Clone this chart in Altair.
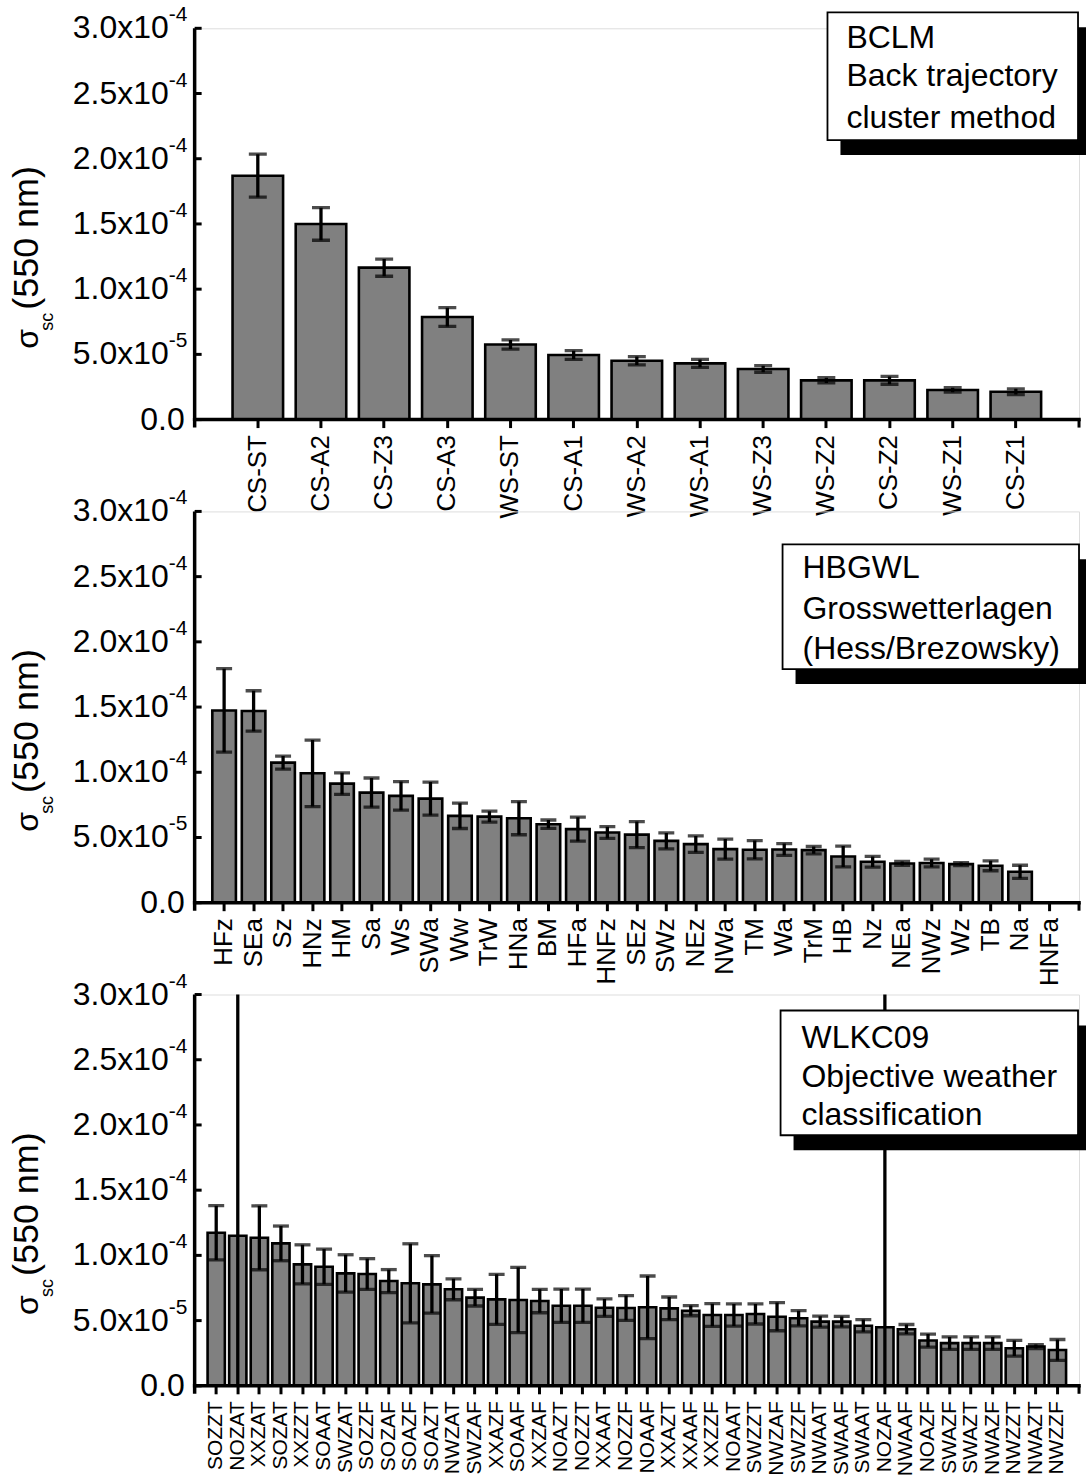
import altair as alt
import pandas as pd

FONT = "Liberation Sans"
W, H = 886, 392
YMAX = 3e-4

# ---------------- data (values in units of 1e-5) ----------------
BCLM_CATS = ["CS-ST", "CS-A2", "CS-Z3", "CS-A3", "WS-ST", "CS-A1", "WS-A2",
             "WS-A1", "WS-Z3", "WS-Z2", "CS-Z2", "WS-Z1", "CS-Z1"]
BCLM_VALS = [18.7, 15.0, 11.65, 7.86, 5.76, 4.95, 4.51, 4.31, 3.88, 3.01, 3.01, 2.27, 2.14]
BCLM_ERRS = [1.65, 1.25, 0.66, 0.72, 0.35, 0.33, 0.32, 0.30, 0.25, 0.20, 0.30, 0.17, 0.22]

HBGWL_CATS = ["HFz", "SEa", "Sz", "HNz", "HM", "Sa", "Ws", "SWa", "Ww", "TrW", "HNa",
              "BM", "HFa", "HNFz", "SEz", "SWz", "NEz", "NWa", "TM", "Wa", "TrM", "HB",
              "Nz", "NEa", "NWz", "Wz", "TB", "Na", "HNFa"]
HBGWL_VALS = [14.74, 14.7, 10.74, 9.92, 9.13, 8.44, 8.19, 7.98, 6.66, 6.6, 6.48,
              6.02, 5.64, 5.38, 5.22, 4.74, 4.49, 4.11, 4.06, 4.08, 4.03, 3.54,
              3.14, 3.01, 3.04, 2.96, 2.83, 2.37, None]
HBGWL_ERRS = [3.2, 1.55, 0.5, 2.55, 0.83, 1.12, 1.1, 1.27, 0.97, 0.42, 1.27,
              0.32, 0.92, 0.45, 1.0, 0.61, 0.63, 0.77, 0.7, 0.45, 0.28, 0.8,
              0.41, 0.15, 0.3, 0.12, 0.38, 0.5, None]

WLKC_CATS = ["SOZZT", "NOZAT", "XXZAT", "SOZAT", "XXZZT", "SOAAT", "SWZAT", "SOZZF",
             "SOZAF", "SOAZF", "SOAZT", "NWZAT", "SWZAF", "XXAZF", "SOAAF", "XXZAF",
             "NOAZT", "NOZZT", "XXAAT", "NOZZF", "NOAAF", "XXAZT", "XXAAF", "XXZZF",
             "NOAAT", "SWZZT", "NWZAF", "SWZZF", "NWAAT", "SWAAF", "SWAAT", "NOZAF",
             "NWAAF", "NOAZF", "SWAZF", "SWAZT", "NWAZF", "NWZZT", "NWAZT", "NWZZF"]
WLKC_VALS = [11.73, 11.5, 11.35, 10.92, 9.31, 9.13, 8.62, 8.57,
             8.03, 7.86, 7.78, 7.4, 6.76, 6.63, 6.58, 6.5,
             6.14, 6.14, 5.99, 5.97, 6.02, 5.94, 5.76, 5.43,
             5.43, 5.51, 5.3, 5.18, 4.92, 4.92, 4.61, 4.49,
             4.34, 3.47, 3.27, 3.27, 3.27, 2.88, 3.01, 2.75]
WLKC_ERRS = [2.08, 26.0, 2.45, 1.33, 1.5, 1.35, 1.43, 1.18,
             0.88, 3.03, 2.2, 0.8, 0.64, 1.92, 2.5, 0.9,
             1.28, 1.28, 0.67, 0.95, 2.4, 0.87, 0.39, 0.87,
             0.85, 0.77, 1.08, 0.58, 0.42, 0.4, 0.47, 26.0,
             0.36, 0.5, 0.48, 0.48, 0.48, 0.6, 0.15, 0.8]

TICK_VALS = [0.0, 5e-5, 1.0e-4, 1.5e-4, 2.0e-4, 2.5e-4, 3.0e-4]
TICK_MAIN = ["0.0", "5.0x10", "1.0x10", "1.5x10", "2.0x10", "2.5x10", "3.0x10"]
TICK_EXP = ["", "-5", "-4", "-4", "-4", "-4", "-4"]

BCLM_LEGEND = ["BCLM", "Back trajectory", "cluster method"]
HBGWL_LEGEND = ["HBGWL", "Grosswetterlagen", "(Hess/Brezowsky)"]
WLKC_LEGEND = ["WLKC09", "Objective weather", "classification"]

# legend box style positions (plot-relative pixels): x1, x2, y1, y2, text x, text baselines
BCLM_BOX = (634, 885, -16, 112, 653, [20, 58, 100])
HBGWL_BOX = (589, 886, 33, 158, 609, [67, 108, 148])
WLKC_BOX = (587, 885, 16, 141, 608, [54, 93, 131])

YSCALE = alt.Scale(domain=[0, YMAX], nice=False, zero=True)
ONE = pd.DataFrame({"k": [0]})


def panel(cats, vals, errs, legend, box, label_size, cap, top=False):
    df = pd.DataFrame({
        "cat": cats,
        "val": [v * 1e-5 if v is not None else None for v in vals],
        "err": [e * 1e-5 if e is not None else None for e in errs],
    })
    X = alt.X("cat:N", sort=cats, title=None,
              scale=alt.Scale(domain=cats, paddingInner=0.2, paddingOuter=0.6),
              axis=alt.Axis(labelAngle=270, labelFontSize=label_size, labelFont=FONT,
                            labelColor="black", tickSize=8, tickWidth=3, tickColor="black",
                            domain=False, labelPadding=7, grid=False, labelOverlap=False,
                            labelBound=False, labelLimit=300))
    base = alt.Chart(df)
    bars = base.mark_bar(fill="#808080", stroke="black", strokeWidth=2.6).encode(
        x=X, y=alt.Y("val:Q", scale=YSCALE, axis=None))
    eb = base.transform_filter("isValid(datum.val)").transform_calculate(
        lo="datum.val - datum.err", hi="datum.val + datum.err")
    rule = eb.mark_rule(color="black", strokeWidth=3.3, clip=True).encode(
        x=X, y=alt.Y("lo:Q", scale=YSCALE, axis=None), y2="hi:Q")
    cap_hi = eb.mark_tick(color="black", thickness=3.3, size=cap, orient="horizontal",
                          clip=True).encode(x=X, y=alt.Y("hi:Q", scale=YSCALE, axis=None))
    cap_lo = eb.mark_tick(color="black", thickness=3.3, size=cap, orient="horizontal",
                          clip=True).encode(x=X, y=alt.Y("lo:Q", scale=YSCALE, axis=None))

    tdf = pd.DataFrame({"v": TICK_VALS, "main": TICK_MAIN, "exp": TICK_EXP})
    tch = alt.Chart(tdf)
    yticks = tch.mark_rule(color="black", strokeWidth=3).encode(
        x=alt.value(0), x2=alt.value(7), y=alt.Y("v:Q", scale=YSCALE, axis=None))
    lab_zero = tch.transform_filter("datum.v == 0").mark_text(
        align="right", baseline="middle", font=FONT, fontSize=32, color="black").encode(
        x=alt.value(-10), y=alt.Y("v:Q", scale=YSCALE, axis=None), text="main:N")
    lab_main = tch.transform_filter("datum.v > 0").mark_text(
        align="right", baseline="middle", font=FONT, fontSize=32, color="black").encode(
        x=alt.value(-26), y=alt.Y("v:Q", scale=YSCALE, axis=None), text="main:N")
    lab_exp = tch.transform_filter("datum.v > 0").mark_text(
        align="left", baseline="alphabetic", font=FONT, fontSize=21, color="black", dy=-7).encode(
        x=alt.value(-26), y=alt.Y("v:Q", scale=YSCALE, axis=None), text="exp:N")

    one = alt.Chart(ONE)
    left_line = one.mark_rule(color="black", strokeWidth=3.5).encode(
        x=alt.value(0), y=alt.value(0), y2=alt.value(H + 8))
    bottom_line = one.mark_rule(color="black", strokeWidth=3.5, strokeCap="square").encode(
        x=alt.value(0), x2=alt.value(W), y=alt.value(H))
    end_tick = one.mark_rule(color="black", strokeWidth=3).encode(
        x=alt.value(W), y=alt.value(H), y2=alt.value(H + 8))

    t_sigma = one.mark_text(align="left", baseline="alphabetic", angle=270, font=FONT,
                            fontSize=32, color="black").encode(
        x=alt.value(-157), y=alt.value(321), text=alt.value("σ"))
    t_sub = one.mark_text(align="left", baseline="alphabetic", angle=270, font=FONT,
                          fontSize=18, color="black").encode(
        x=alt.value(-142), y=alt.value(303), text=alt.value("sc"))
    t_rest = one.mark_text(align="left", baseline="alphabetic", angle=270, font=FONT,
                           fontSize=36, color="black").encode(
        x=alt.value(-157), y=alt.value(282), text=alt.value("(550 nm)"))

    bx1, bx2, by1, by2, tx, tys = box
    shadow = one.mark_rect(fill="black").encode(
        x=alt.value(bx1 + 13), x2=alt.value(min(bx2 + 14, W + 7)),
        y=alt.value(by1 + 15), y2=alt.value(by2 + 15))
    frame = one.mark_rect(fill="white", stroke="black", strokeWidth=1.8).encode(
        x=alt.value(bx1), x2=alt.value(bx2), y=alt.value(by1), y2=alt.value(by2))
    texts = [one.mark_text(align="left", baseline="alphabetic", font=FONT, fontSize=32,
                           color="black").encode(
        x=alt.value(tx), y=alt.value(ty), text=alt.value(line))
        for line, ty in zip(legend, tys)]

    layers = []
    if top:
        layers.append(one.mark_rect(fill="white").encode(
            x=alt.value(-194), x2=alt.value(W + 7), y=alt.value(-26), y2=alt.value(-20)))
    layers += [bars, rule, cap_hi, cap_lo, yticks, left_line, bottom_line, end_tick,
               lab_zero, lab_main, lab_exp, t_sigma, t_sub, t_rest, shadow, frame] + texts
    return alt.layer(*layers).properties(width=W, height=H)


p1 = panel(BCLM_CATS, BCLM_VALS, BCLM_ERRS, BCLM_LEGEND, BCLM_BOX, 26, 18, top=True)
p2 = panel(HBGWL_CATS, HBGWL_VALS, HBGWL_ERRS, HBGWL_LEGEND, HBGWL_BOX, 26, 16)
p3 = panel(WLKC_CATS, WLKC_VALS, WLKC_ERRS, WLKC_LEGEND, WLKC_BOX, 21, 16)

chart = alt.vconcat(p1, p2, p3, spacing=92, bounds="flush", padding=0).configure_view(
    stroke="transparent").configure(background="white")

chart.save("out.html", embed_options={"renderer": "svg", "actions": False})
